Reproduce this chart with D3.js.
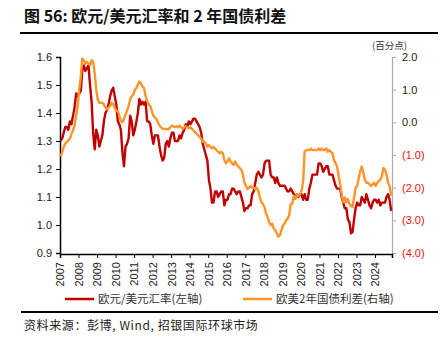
<!DOCTYPE html>
<html>
<head>
<meta charset="utf-8">
<script src="https://cdn.jsdelivr.net/npm/d3@7/dist/d3.min.js"></script>
<style>
  body { margin: 0; background: #fff; }
  text { font-family: "Liberation Sans", Arial, "Noto Sans CJK SC", sans-serif; }
  .cjk { font-family: "Noto Sans CJK SC", sans-serif; }
</style>
</head>
<body>
<script>
'use strict';

// monthly series, Jan 2007 .. Nov 2024
const startYear = 2007;

// EUR/USD exchange rate (left axis)
const eurusd = [
  1.30, 1.31, 1.33, 1.35, 1.35, 1.34, 1.37, 1.36, 1.39, 1.42, 1.47, 1.46, // 2007
  1.47, 1.48, 1.55, 1.57, 1.55, 1.56, 1.57, 1.50, 1.44, 1.33, 1.27, 1.34, // 2008
  1.32, 1.28, 1.30, 1.32, 1.37, 1.40, 1.41, 1.43, 1.46, 1.48, 1.49, 1.46, // 2009
  1.43, 1.37, 1.36, 1.34, 1.26, 1.21, 1.28, 1.29, 1.31, 1.39, 1.37, 1.32, // 2010
  1.34, 1.37, 1.40, 1.45, 1.43, 1.44, 1.43, 1.44, 1.37, 1.37, 1.36, 1.32, // 2011
  1.29, 1.32, 1.32, 1.32, 1.28, 1.25, 1.23, 1.24, 1.29, 1.30, 1.28, 1.31, // 2012
  1.33, 1.33, 1.30, 1.30, 1.30, 1.32, 1.31, 1.33, 1.34, 1.36, 1.35, 1.37, // 2013
  1.36, 1.37, 1.38, 1.38, 1.37, 1.36, 1.35, 1.33, 1.29, 1.27, 1.25, 1.23, // 2014
  1.16, 1.13, 1.08, 1.08, 1.12, 1.12, 1.10, 1.11, 1.12, 1.12, 1.07, 1.09, // 2015
  1.09, 1.11, 1.11, 1.13, 1.13, 1.12, 1.11, 1.12, 1.12, 1.10, 1.08, 1.05, // 2016
  1.06, 1.06, 1.07, 1.07, 1.11, 1.12, 1.15, 1.18, 1.19, 1.18, 1.17, 1.18, // 2017
  1.22, 1.23, 1.23, 1.23, 1.18, 1.17, 1.17, 1.15, 1.17, 1.15, 1.14, 1.14, // 2018
  1.14, 1.14, 1.13, 1.12, 1.12, 1.13, 1.12, 1.11, 1.10, 1.11, 1.10, 1.11, // 2019
  1.11, 1.09, 1.11, 1.09, 1.09, 1.13, 1.15, 1.18, 1.18, 1.18, 1.18, 1.22, // 2020
  1.22, 1.21, 1.19, 1.20, 1.21, 1.21, 1.18, 1.18, 1.18, 1.16, 1.14, 1.13, // 2021
  1.13, 1.13, 1.10, 1.08, 1.06, 1.06, 1.02, 1.01, 0.97, 0.975, 1.02, 1.06, // 2022
  1.08, 1.07, 1.07, 1.10, 1.09, 1.08, 1.11, 1.09, 1.07, 1.06, 1.08, 1.09, // 2023
  1.09, 1.08, 1.09, 1.07, 1.08, 1.08, 1.08, 1.10, 1.11, 1.09, 1.05        // 2024
];

// Euro area minus US 2y yield spread, percentage points (right axis)
const spread = [
  -1.05, -0.90, -0.75, -0.65, -0.60, -0.55, -0.50, -0.35, -0.25, -0.10, 0.20, 0.50, // 2007
  1.00, 1.40, 1.95, 1.90, 1.80, 1.85, 1.80, 1.75, 1.90, 1.85, 1.50, 1.00,           // 2008
  0.70, 0.60, 0.60, 0.60, 0.55, 0.45, 0.40, 0.45, 0.50, 0.60, 0.55, 0.45,           // 2009
  0.35, 0.35, 0.20, 0.05, 0.00, 0.10, 0.25, 0.35, 0.50, 0.70, 0.80, 0.85,           // 2010
  1.00, 1.05, 1.15, 1.25, 1.20, 1.10, 1.05, 0.80, 0.65, 0.55, 0.50, 0.35,           // 2011
  0.20, 0.15, 0.10, 0.00, -0.10, -0.15, -0.20, -0.20, -0.20, -0.22, -0.20, -0.15,   // 2012
  -0.10, -0.12, -0.15, -0.12, -0.15, -0.10, -0.15, -0.20, -0.15, -0.12, -0.15, -0.18, // 2013
  -0.15, -0.20, -0.25, -0.30, -0.35, -0.40, -0.45, -0.50, -0.60, -0.60, -0.65, -0.75, // 2014
  -0.70, -0.75, -0.80, -0.75, -0.80, -0.85, -0.90, -0.95, -0.90, -0.95, -1.15, -1.25, // 2015
  -1.20, -1.10, -1.20, -1.25, -1.30, -1.20, -1.30, -1.35, -1.40, -1.45, -1.60, -1.85, // 2016
  -1.95, -2.05, -2.00, -1.95, -2.00, -2.00, -2.05, -2.00, -2.10, -2.30, -2.45, -2.50, // 2017
  -2.60, -2.80, -2.90, -3.05, -3.15, -3.10, -3.25, -3.30, -3.40, -3.50, -3.45, -3.30, // 2018
  -3.15, -3.10, -3.00, -2.95, -2.85, -2.50, -2.50, -2.25, -2.35, -2.20, -2.25, -2.20, // 2019
  -2.10, -1.80, -0.90, -0.85, -0.85, -0.85, -0.80, -0.85, -0.85, -0.85, -0.85, -0.80, // 2020
  -0.85, -0.80, -0.85, -0.85, -0.80, -0.90, -0.85, -0.90, -0.95, -1.15, -1.25, -1.35, // 2021
  -1.65, -1.90, -2.20, -2.45, -2.30, -2.45, -2.35, -2.50, -2.55, -2.60, -2.30, -2.00, // 2022
  -1.95, -1.70, -1.50, -1.35, -1.55, -1.75, -1.85, -1.85, -1.90, -1.95, -1.90, -1.85, // 2023
  -1.95, -1.85, -1.80, -1.75, -1.65, -1.40, -1.45, -1.60, -1.85, -1.95, -2.25         // 2024
];

const yearTicks = d3.range(2007, 2025);
const leftTicks = [0.9, 1.0, 1.1, 1.2, 1.3, 1.4, 1.5, 1.6];
const rightTicks = [-4, -3, -2, -1, 0, 1, 2];

const titleText = '图 56: 欧元/美元汇率和 2 年国债利差';
const unitText = '(百分点)';
const legendLabels = ['欧元/美元汇率(左轴)', '欧美2年国债利差(右轴)'];
const sourceText = '资料来源：彭博, Wind, 招银国际环球市场';

const width = 443, height = 344;
const red = '#c00000', orange = '#ff9428';

const svg = d3.select('body').append('svg')
  .attr('width', width)
  .attr('height', height);

// month index -> date (mid month)
const monthDate = (i) => new Date(startYear + Math.floor(i / 12), i % 12, 15);

const x = d3.scaleTime()
  .domain([new Date(2007, 0, 1), new Date(2024, 11, 1)])
  .range([60, 392]);
const yL = d3.scaleLinear().domain([0.9, 1.6]).range([253, 57]);
const yR = d3.scaleLinear().domain([-4, 2]).range([253, 57]);

// title and rules
svg.append('text')
  .attr('class', 'cjk')
  .attr('x', 24).attr('y', 22)
  .style('font-size', '16px')
  .style('font-weight', 'bold')
  .attr('fill', '#111')
  .text(titleText);

svg.append('line')
  .attr('x1', 20).attr('x2', 438)
  .attr('y1', 33).attr('y2', 33)
  .attr('stroke', '#000').attr('stroke-width', 2.2);

svg.append('line')
  .attr('x1', 21).attr('x2', 438)
  .attr('y1', 312).attr('y2', 312)
  .attr('stroke', '#000').attr('stroke-width', 2.2);

svg.append('text')
  .attr('class', 'cjk')
  .attr('x', 372).attr('y', 49)
  .style('font-size', '9.5px')
  .attr('fill', '#333')
  .text(unitText);

// left axis
const leftAxis = svg.append('g')
  .attr('transform', 'translate(60,0)')
  .call(d3.axisLeft(yL).tickValues(leftTicks).tickFormat(d3.format('.1f')).tickSize(4).tickPadding(4));
leftAxis.select('.domain').attr('stroke', '#000').attr('stroke-width', 1.5);
leftAxis.selectAll('text').style('font-size', '11px').attr('fill', '#222');

// right axis, negatives in brackets and red
const rightAxis = svg.append('g')
  .attr('transform', 'translate(392,0)')
  .call(d3.axisRight(yR).tickValues(rightTicks)
    .tickFormat((d) => d < 0 ? '(' + d3.format('.1f')(-d) + ')' : d3.format('.1f')(d))
    .tickSize(4).tickPadding(6));
rightAxis.select('.domain').attr('stroke', '#aaa').attr('stroke-width', 1.2);
rightAxis.selectAll('line').attr('stroke', '#aaa');
rightAxis.selectAll('text')
  .style('font-size', '11px')
  .attr('fill', (d) => d < 0 ? '#ee1111' : '#222');

// x axis with vertical year labels
const xAxis = svg.append('g')
  .attr('transform', 'translate(0,254)')
  .call(d3.axisBottom(x).tickValues(yearTicks.map((y) => new Date(y, 0, 1)))
    .tickFormat(d3.timeFormat('%Y')).tickSize(4));
xAxis.select('.domain').attr('stroke', '#000').attr('stroke-width', 1.5);
xAxis.selectAll('.tick line').attr('stroke', '#000');
xAxis.selectAll('text')
  .style('font-size', '11px')
  .attr('fill', '#222')
  .attr('text-anchor', 'end')
  .attr('transform', 'rotate(-90)')
  .attr('x', -8)
  .attr('y', 0)
  .attr('dy', '0.35em');

// series lines
const lineL = d3.line().x((d, i) => x(monthDate(i))).y((d) => yL(d));
const lineR = d3.line().x((d, i) => x(monthDate(i))).y((d) => yR(d));

svg.append('path')
  .datum(eurusd)
  .attr('d', lineL)
  .attr('fill', 'none')
  .attr('stroke', red)
  .attr('stroke-width', 2.4)
  .attr('stroke-linejoin', 'round');

svg.append('path')
  .datum(spread)
  .attr('d', lineR)
  .attr('fill', 'none')
  .attr('stroke', orange)
  .attr('stroke-width', 2.4)
  .attr('stroke-linejoin', 'round');

// legend
const legend = svg.append('g');
[[65, red], [243, orange]].forEach((item, i) => {
  legend.append('line')
    .attr('x1', item[0]).attr('x2', item[0] + 29)
    .attr('y1', 299).attr('y2', 299)
    .attr('stroke', item[1]).attr('stroke-width', 2.5);
  legend.append('text')
    .attr('class', 'cjk')
    .attr('x', item[0] + 33).attr('y', 303)
    .style('font-size', '11.5px')
    .attr('fill', '#333')
    .text(legendLabels[i]);
});

// source note
svg.append('text')
  .attr('class', 'cjk')
  .attr('x', 24).attr('y', 330)
  .style('font-size', '12px')
  .style('letter-spacing', '0.6px')
  .attr('fill', '#222')
  .text(sourceText);
</script>
</body>
</html>
